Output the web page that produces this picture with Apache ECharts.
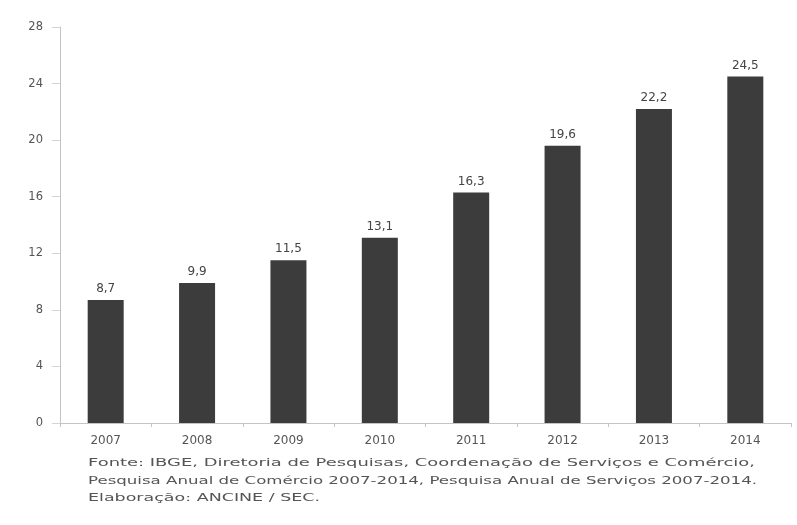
<!DOCTYPE html>
<html>
<head>
<meta charset="utf-8">
<script src="https://cdn.jsdelivr.net/npm/echarts@6/dist/echarts.min.js"></script>
<style>
  html, body { margin: 0; padding: 0; background: #ffffff; }
  #chart { width: 797px; height: 525px; }
</style>
</head>
<body>
<div id="chart"></div>
<script>
// Anos e valores (bilhões)
const years = ['2007', '2008', '2009', '2010', '2011', '2012', '2013', '2014'];
const values = [8.7, 9.9, 11.5, 13.1, 16.3, 19.6, 22.2, 24.5];
const yTicks = [0, 4, 8, 12, 16, 20, 24, 28];
const sourceLines = [
  'Fonte: IBGE, Diretoria de Pesquisas, Coordenação de Serviços e Comércio,',
  'Pesquisa Anual de Comércio 2007-2014, Pesquisa Anual de Serviços 2007-2014.',
  'Elaboração: ANCINE / SEC.'
];
// largura ocupada por cada linha da nota
const sourceWidths = [667, 669, 232];

const textColor = '#555555';
const baseFont = 'DejaVu Sans';
const noteFont = '11px "DejaVu Sans"';

// mede cada linha da nota para alargá-la até a largura desejada
const ctx = document.createElement('canvas').getContext('2d');
ctx.font = noteFont;
const noteScales = sourceLines.map((t, i) => sourceWidths[i] / ctx.measureText(t).width);

const chart = echarts.init(document.getElementById('chart'), null, { renderer: 'canvas' });

chart.setOption({
  backgroundColor: '#ffffff',
  animation: false,
  grid: { left: 60, right: 6, top: 27, bottom: 102 },
  xAxis: {
    type: 'category',
    data: years,
    axisLine: { lineStyle: { color: '#c4c4c4', width: 1 } },
    axisTick: { show: true, alignWithLabel: false, length: 4, lineStyle: { color: '#c4c4c4' } },
    axisLabel: { color: textColor, fontFamily: baseFont, fontSize: 12, margin: 12 }
  },
  yAxis: {
    type: 'value',
    min: yTicks[0],
    max: yTicks[yTicks.length - 1],
    interval: 4,
    splitLine: { show: false },
    axisLine: { show: true, lineStyle: { color: '#c4c4c4', width: 1 } },
    axisTick: { show: true, inside: false, length: 8, lineStyle: { color: '#d4d4d4' } },
    axisLabel: { color: textColor, fontFamily: baseFont, fontSize: 11.5, margin: 17 }
  },
  series: [{
    type: 'bar',
    data: values,
    barWidth: 36,
    itemStyle: { color: '#3c3c3c' },
    label: {
      show: true,
      position: 'top',
      distance: 5,
      color: '#444444',
      fontFamily: baseFont,
      fontSize: 12,
      formatter: p => String(p.value).replace('.', ',')
    }
  }],
  graphic: sourceLines.map((t, i) => ({
    type: 'text',
    x: 88,
    y: 458 + i * 17.5,
    scaleX: noteScales[i],
    style: { text: t, fill: '#555555', font: noteFont }
  }))
});
</script>
</body>
</html>
